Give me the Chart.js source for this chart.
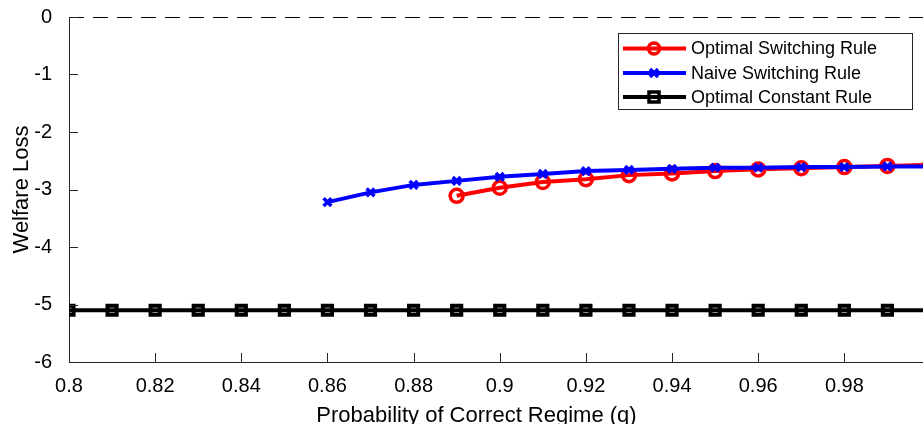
<!DOCTYPE html>
<html><head><meta charset="utf-8">
<script src="https://cdn.jsdelivr.net/npm/chart.js@4.4.1/dist/chart.umd.min.js"></script>
<style>html,body{margin:0;padding:0;background:#fff;overflow:hidden;width:923px;height:424px}#wrap{width:933px;height:424px}canvas{display:block}</style>
</head><body>
<div id="wrap"><canvas id="c" width="933" height="424" style="width:933px;height:424px"></canvas></div>
<script>
// ---- data ----
const constantQ = [0.80,0.81,0.82,0.83,0.84,0.85,0.86,0.87,0.88,0.89,0.90,0.91,0.92,0.93,0.94,0.95,0.96,0.97,0.98,0.99,1.00];
const optimalConstant = [-5.1,-5.1,-5.1,-5.1,-5.1,-5.1,-5.1,-5.1,-5.1,-5.1,-5.1,-5.1,-5.1,-5.1,-5.1,-5.1,-5.1,-5.1,-5.1,-5.1,-5.1];
const naiveQ = [0.86,0.87,0.88,0.89,0.90,0.91,0.92,0.93,0.94,0.95,0.96,0.97,0.98,0.99,1.00];
const naiveSwitching = [-3.22,-3.05,-2.92,-2.85,-2.78,-2.73,-2.68,-2.66,-2.64,-2.62,-2.62,-2.61,-2.61,-2.60,-2.60];
const optimalQ = [0.89,0.90,0.91,0.92,0.93,0.94,0.95,0.96,0.97,0.98,0.99,1.00];
const optimalSwitching = [-3.11,-2.97,-2.87,-2.82,-2.75,-2.72,-2.68,-2.65,-2.63,-2.61,-2.59,-2.57];
const zeroQ = [0.80,1.00];
const zeroLine = [0,0];
const xTicks = [0.80,0.82,0.84,0.86,0.88,0.90,0.92,0.94,0.96,0.98,1.00];
const yTicks = [-6,-5,-4,-3,-2,-1,0];
const legendLabels = ['Optimal Switching Rule','Naive Switching Rule','Optimal Constant Rule'];
const xTitle = 'Probability of Correct Regime (q)';
const yTitle = 'Welfare Loss';

const FONT = '"Liberation Sans", Arial, Helvetica, sans-serif';
const AX = '#262626';
const pts = (xs, ys) => xs.map((x, i) => ({x, y: ys[i]}));

const inwardTicks = {
  id: 'inwardTicks',
  afterDatasetsDraw(chart) {
    const {ctx, chartArea: a, scales: {x, y}} = chart;
    ctx.save();
    ctx.strokeStyle = AX; ctx.lineWidth = 1;
    ctx.beginPath();
    xTicks.forEach(v => { const px = Math.round(x.getPixelForValue(v)) + 0.5; ctx.moveTo(px, a.bottom); ctx.lineTo(px, a.bottom - 9); });
    yTicks.forEach(v => { const py = Math.round(y.getPixelForValue(v)) + 0.5; ctx.moveTo(a.left, py); ctx.lineTo(a.left + 9, py); });
    ctx.stroke();
    // x-axis title
    ctx.fillStyle = '#000';
    ctx.font = '22px ' + FONT;
    ctx.textAlign = 'center'; ctx.textBaseline = 'alphabetic';
    ctx.fillText(xTitle, 476.5, 421.5);
    ctx.restore();
  }
};

function marker(ctx, style, cx, cy, color) {
  ctx.save();
  ctx.strokeStyle = color; ctx.lineWidth = 3.5;
  ctx.beginPath();
  if (style === 'circle') { ctx.arc(cx, cy, 5.5, 0, Math.PI * 2); }
  else if (style === 'crossRot') { const r = 4; ctx.moveTo(cx - r, cy - r); ctx.lineTo(cx + r, cy + r); ctx.moveTo(cx + r, cy - r); ctx.lineTo(cx - r, cy + r); }
  else { ctx.rect(cx - 5, cy - 5, 10, 10); }
  ctx.stroke();
  ctx.restore();
}

const boxLegend = {
  id: 'boxLegend',
  afterDraw(chart) {
    const ctx = chart.ctx;
    const ds = chart.data.datasets.filter(d => !d.hideInLegend);
    ctx.save();
    ctx.fillStyle = '#fff';
    ctx.fillRect(618, 33, 294, 76);
    ctx.strokeStyle = AX; ctx.lineWidth = 1;
    ctx.strokeRect(618.5, 33.5, 294, 76);
    const rows = [48.5, 73, 97];
    ds.forEach((d, i) => {
      const yy = rows[i];
      ctx.strokeStyle = d.borderColor; ctx.lineWidth = 4;
      ctx.beginPath(); ctx.moveTo(623, yy); ctx.lineTo(686, yy); ctx.stroke();
      marker(ctx, d.pointStyle, 654, yy, d.borderColor);
      ctx.fillStyle = '#000';
      ctx.font = '18px ' + FONT;
      ctx.textAlign = 'left'; ctx.textBaseline = 'middle';
      ctx.fillText(d.label, 691, yy + 1);
    });
    ctx.restore();
  }
};

const canvas = document.getElementById('c');
const chart = new Chart(canvas, {
  type: 'line',
  data: {
    datasets: [
      { label: legendLabels[0], data: pts(optimalQ, optimalSwitching), borderColor: '#ff0000', backgroundColor: 'rgba(0,0,0,0)', borderWidth: 4, pointStyle: 'circle', pointRadius: 6.5, pointBorderWidth: 3.5, pointBackgroundColor: 'rgba(0,0,0,0)', order: 2 },
      { label: legendLabels[1], data: pts(naiveQ, naiveSwitching), borderColor: '#0000ff', backgroundColor: 'rgba(0,0,0,0)', borderWidth: 4, pointStyle: 'crossRot', pointRadius: 5.5, pointBorderWidth: 3.5, order: 1 },
      { label: legendLabels[2], data: pts(constantQ, optimalConstant), borderColor: '#000000', backgroundColor: 'rgba(0,0,0,0)', borderWidth: 4, pointStyle: 'rect', pointRadius: 6.5, pointBorderWidth: 4, pointBackgroundColor: 'rgba(0,0,0,0)', order: 0 },
      { label: 'zero', hideInLegend: true, data: pts(zeroQ, zeroLine), borderColor: '#000000', borderWidth: 2, borderDash: [15, 9], pointRadius: 0, order: 3 }
    ]
  },
  options: {
    responsive: false, maintainAspectRatio: false, animation: false, devicePixelRatio: 1,
    layout: { padding: { top: 17, right: 3, left: 0, bottom: 0 } },
    plugins: { legend: { display: false }, tooltip: { enabled: false } },
    elements: { line: { tension: 0 } },
    scales: {
      x: {
        type: 'linear', min: 0.8, max: 1.0,
        grid: { display: false }, border: { display: true, color: AX, width: 1 },
        afterBuildTicks: s => { s.ticks = xTicks.map(v => ({value: v})); },
        afterFit: s => { s.height = 62; s.paddingLeft = 0; s.paddingRight = 0; },
        ticks: { color: '#000', font: { family: FONT, size: 20 }, padding: 4, maxRotation: 0, autoSkip: false,
          callback: v => (v >= 0.999 ? '' : String(Number(v.toFixed(2)))) }
      },
      y: {
        type: 'linear', min: -6, max: 0,
        grid: { display: false }, border: { display: true, color: AX, width: 1 },
        afterBuildTicks: s => { s.ticks = yTicks.map(v => ({value: v})); },
        afterFit: s => { s.width = 69; s.paddingTop = 0; s.paddingBottom = 0; },
        ticks: { color: '#000', font: { family: FONT, size: 20 }, padding: 9, autoSkip: false,
          callback: v => String(v) },
        title: { display: true, text: yTitle, color: '#000', font: { family: FONT, size: 22 }, padding: { top: 9, bottom: 0 } }
      }
    }
  },
  plugins: [inwardTicks, boxLegend]
});

// keep the plot area's right edge (q = 1) at 930 px, just past the visible window, as in the reference
for (let k = 0; k < 3; k++) {
  const dx = Math.round(930 - chart.chartArea.right);
  if (dx === 0) break;
  const w = chart.width + dx;
  document.getElementById('wrap').style.width = w + 'px';
  canvas.style.width = w + 'px';
  chart.resize(w, 424);
}
</script>
</body></html>
